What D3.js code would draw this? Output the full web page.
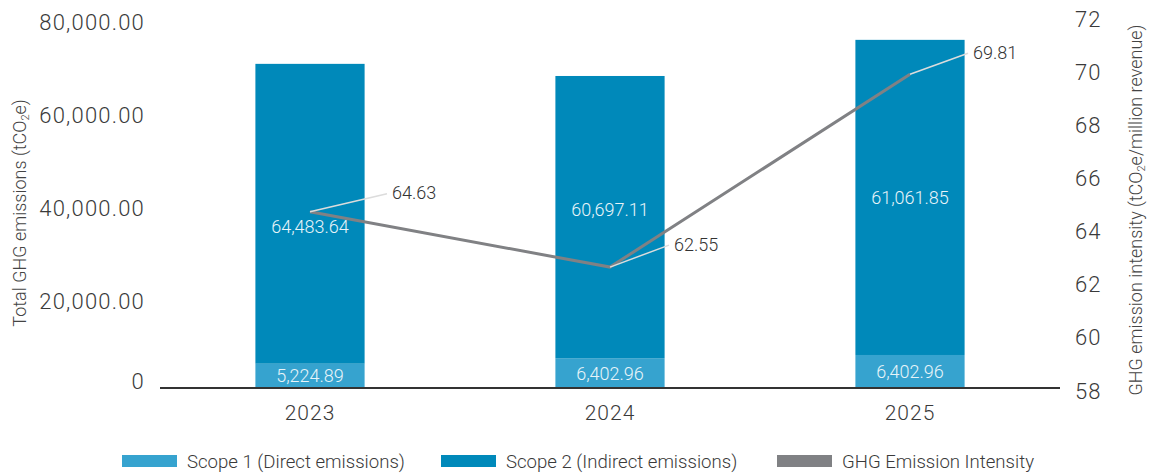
<!DOCTYPE html>
<html>
<head>
<meta charset="utf-8">
<script src="https://cdn.jsdelivr.net/npm/d3@7"></script>
<style>
    body { margin: 0; background: #fff; }
    svg text { font-family: Roboto, "Liberation Sans", sans-serif; font-weight: 300; }
</style>
</head>
<body>
<div id="the_chart"></div>
<script>
let years = ["2023", "2024", "2025"];
// bar heights as drawn in the picture
let scope1 = [5224.89, 6402.96, 7100];
let scope2 = [64483.64, 60697.11, 67770];
// printed bar labels
let scope1_labels = ["5,224.89", "6,402.96", "6,402.96"];
let scope2_labels = ["64,483.64", "60,697.11", "61,061.85"];
let intensity = [64.63, 62.55, 69.81];
let left_ticks = [0, 20000, 40000, 60000, 80000];
let right_ticks = [58, 60, 62, 64, 66, 68, 70, 72];
let legend_names = ["Scope 1 (Direct emissions)", "Scope 2 (Indirect emissions)", "GHG Emission Intensity"];

gen_vis();

function gen_vis() {
    var w = 1152;
    var h = 473;
    var left = 160, right = 1060, base = 388, top = 16;
    var c1 = "#36a3cf", c2 = "#0089ba", cl = "#808184";

    var xscale = d3.scaleBand()
        .domain(years)
        .range([left, right])
        .paddingInner(0.636)
        .paddingOuter(0.318);
    var yscale = d3.scaleLinear()
        .domain([0, 80000])
        .range([base, top]);
    var rscale = d3.scaleLinear()
        .domain([58, 72])
        .range([base, top]);

    var svg = d3.select("#the_chart").append("svg")
        .attr("width", w)
        .attr("height", h);

    var data = years.map(function(y, i) {
        return {year: y, s1: scope1[i], s2: scope2[i], l1: scope1_labels[i], l2: scope2_labels[i], v: intensity[i]};
    });

    // scope 1 bars
    svg.selectAll("rect.s1")
        .data(data)
        .enter().append("rect")
        .attr("class", "s1")
        .attr("x", function(d) { return xscale(d.year); })
        .attr("width", xscale.bandwidth())
        .attr("y", function(d) { return yscale(d.s1); })
        .attr("height", function(d) { return base - yscale(d.s1); })
        .attr("fill", c1);
    // scope 2 bars
    svg.selectAll("rect.s2")
        .data(data)
        .enter().append("rect")
        .attr("class", "s2")
        .attr("x", function(d) { return xscale(d.year); })
        .attr("width", xscale.bandwidth())
        .attr("y", function(d) { return yscale(d.s1 + d.s2); })
        .attr("height", function(d) { return yscale(d.s1) - yscale(d.s1 + d.s2); })
        .attr("fill", c2);

    // bar value labels
    var nudge = [13, -8, 0];
    svg.selectAll("text.l1")
        .data(data)
        .enter().append("text")
        .attr("class", "l1")
        .attr("x", function(d) { return xscale(d.year) + xscale.bandwidth() / 2; })
        .attr("y", function(d) { return (yscale(d.s1) + base) / 2; })
        .attr("dy", "0.36em")
        .attr("text-anchor", "middle")
        .attr("font-size", 18)
        .attr("fill", "#e8f4f9")
        .text(function(d) { return d.l1; });
    svg.selectAll("text.l2")
        .data(data)
        .enter().append("text")
        .attr("class", "l2")
        .attr("x", function(d) { return xscale(d.year) + xscale.bandwidth() / 2; })
        .attr("y", function(d, i) { return (yscale(d.s1) + yscale(d.s1 + d.s2)) / 2 + nudge[i]; })
        .attr("dy", "0.36em")
        .attr("text-anchor", "middle")
        .attr("font-size", 18)
        .attr("fill", "#e8f4f9")
        .text(function(d) { return d.l2; });

    // baseline
    svg.append("line")
        .attr("x1", left).attr("x2", right)
        .attr("y1", base).attr("y2", base)
        .attr("stroke", "#333")
        .attr("stroke-width", 2);

    // intensity line
    var cx = function(d) { return xscale(d.year) + xscale.bandwidth() / 2; };
    var line = d3.line()
        .x(cx)
        .y(function(d) { return rscale(d.v); });
    svg.append("path")
        .datum(data)
        .attr("d", line)
        .attr("fill", "none")
        .attr("stroke", cl)
        .attr("stroke-width", 3);

    // leader lines + labels
    var off = [[77, -18], [59, -22], [58, -21]];
    svg.selectAll("line.lead")
        .data(data)
        .enter().append("line")
        .attr("class", "lead")
        .attr("x1", cx)
        .attr("y1", function(d) { return rscale(d.v); })
        .attr("x2", function(d, i) { return cx(d) + off[i][0]; })
        .attr("y2", function(d, i) { return rscale(d.v) + off[i][1]; })
        .attr("stroke", "#dcdcdc")
        .attr("stroke-width", 1.5);
    svg.selectAll("text.lv")
        .data(data)
        .enter().append("text")
        .attr("class", "lv")
        .attr("x", function(d, i) { return cx(d) + off[i][0] + 5; })
        .attr("y", function(d, i) { return rscale(d.v) + off[i][1]; })
        .attr("dy", "0.3em")
        .attr("font-size", 18)
        .attr("fill", "#333")
        .text(function(d) { return d3.format(".2f")(d.v); });

    // left axis
    var yaxis = d3.axisLeft(yscale)
        .tickValues(left_ticks)
        .tickSize(0)
        .tickPadding(15)
        .tickFormat(function(d) { return d === 0 ? "0" : d3.format(",.2f")(d); });
    var ga = svg.append("g")
        .attr("transform", "translate(" + left + ",0)")
        .call(yaxis);
    ga.select(".domain").remove();
    ga.selectAll("text")
        .attr("font-family", null)
        .attr("font-size", 22)
        .attr("letter-spacing", 1.2)
        .attr("fill", "#3a3a3a")
        .attr("dy", function(d) { return d === 0 ? "0.0em" : "0.62em"; });

    // right axis
    var raxis = d3.axisRight(rscale)
        .tickValues(right_ticks)
        .tickSize(0)
        .tickPadding(15);
    var gr = svg.append("g")
        .attr("transform", "translate(" + right + ",0)")
        .call(raxis);
    gr.select(".domain").remove();
    gr.selectAll("text")
        .attr("font-family", null)
        .attr("font-size", 22)
        .attr("letter-spacing", 1.1)
        .attr("fill", "#3a3a3a")
        .attr("dy", "0.46em");

    // x axis labels
    var xaxis = d3.axisBottom(xscale)
        .tickSize(0)
        .tickPadding(17);
    var gx = svg.append("g")
        .attr("transform", "translate(0," + base + ")")
        .call(xaxis);
    gx.select(".domain").remove();
    gx.selectAll("text")
        .attr("font-family", null)
        .attr("font-size", 21)
        .attr("letter-spacing", 1)
        .attr("fill", "#3a3a3a");

    // axis titles
    var lt = svg.append("text")
        .attr("transform", "translate(26,213) rotate(-90)")
        .attr("text-anchor", "middle")
        .attr("font-size", 18)
        .attr("fill", "#444");
    lt.append("tspan").text("Total GHG emissions (tCO");
    lt.append("tspan").attr("font-size", 11).attr("dy", 3).text("2");
    lt.append("tspan").attr("dy", -3).text("e)");

    var rt = svg.append("text")
        .attr("transform", "translate(1142,210) rotate(-90)")
        .attr("text-anchor", "middle")
        .attr("font-size", 18)
        .attr("fill", "#444");
    rt.append("tspan").text("GHG emission intensity (tCO");
    rt.append("tspan").attr("font-size", 11).attr("dy", 3).text("2");
    rt.append("tspan").attr("dy", -3).text("e/million revenue)");

    // legend
    var lx = [122, 441, 777];
    var lc = [c1, c2, cl];
    var lg = svg.selectAll("g.leg")
        .data(legend_names)
        .enter().append("g")
        .attr("class", "leg")
        .attr("transform", function(d, i) { return "translate(" + lx[i] + ",455)"; });
    lg.append("rect")
        .attr("width", 55)
        .attr("height", 12)
        .attr("fill", function(d, i) { return lc[i]; });
    lg.append("text")
        .attr("x", 65)
        .attr("y", 6)
        .attr("dy", "0.36em")
        .attr("font-size", 18.6)
        .attr("fill", "#3a3a3a")
        .text(function(d) { return d; });
}
</script>
</body>
</html>
